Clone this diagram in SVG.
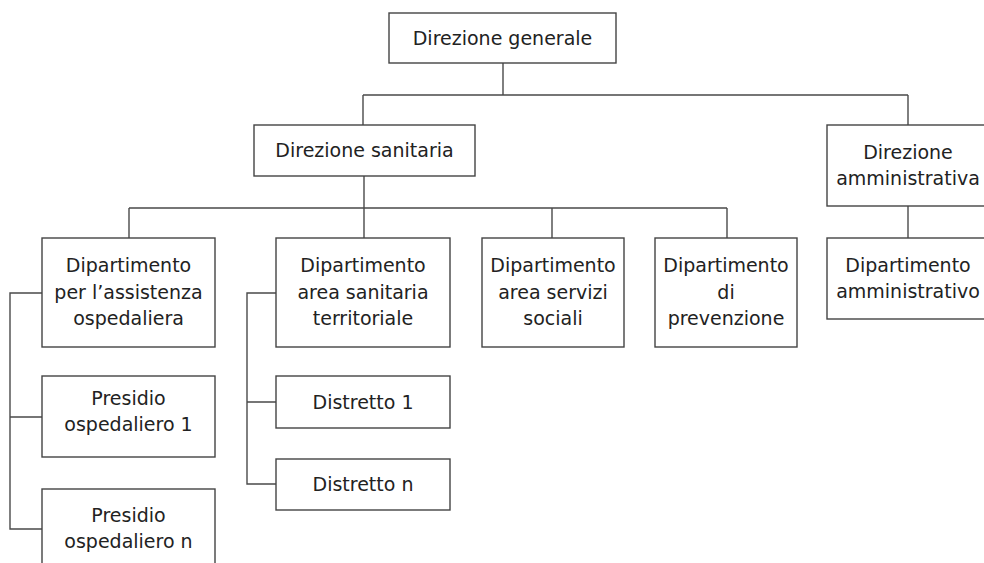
<svg xmlns="http://www.w3.org/2000/svg" width="984" height="563" viewBox="0 0 984 563">
<style>
.box{fill:#fff;stroke:#444;stroke-width:1.4}
.ln{fill:none;stroke:#4a4a4a;stroke-width:1.4}
text{font-family:"DejaVu Sans","Liberation Sans",sans-serif;font-size:19px;fill:#222;text-anchor:middle}
</style>
<rect width="984" height="563" fill="#fff"/>
<g id="connectors">
<path class="ln" d="M503,63V95M363,95H908M363,95V125M908,95V125"/>
<path class="ln" d="M908,206V238"/>
<path class="ln" d="M364,176V208M129,208H727M129,208V238M364,208V238M552,208V238M727,208V238"/>
<path class="ln" d="M42,293H10V529H42M10,417H42"/>
<path class="ln" d="M276,293H247V484H276M247,402H276"/>
</g>
<g id="direzione-generale"><rect class="box" x="389" y="13" width="227" height="50"/><text x="502.5" y="44.5">Direzione generale</text></g>
<g id="direzione-sanitaria"><rect class="box" x="254" y="125" width="221" height="51"/><text x="364.5" y="157">Direzione sanitaria</text></g>
<g id="direzione-amministrativa"><rect class="box" x="827" y="125" width="170" height="81"/><text x="908" y="158.5">Direzione</text><text x="908" y="185">amministrativa</text></g>
<g id="dipartimento-amministrativo"><rect class="box" x="827" y="238" width="170" height="81"/><text x="908" y="271.5">Dipartimento</text><text x="908" y="298">amministrativo</text></g>
<g id="dip-assistenza-ospedaliera"><rect class="box" x="42" y="238" width="173" height="109"/><text x="128.5" y="272">Dipartimento</text><text x="128.5" y="298.5">per l’assistenza</text><text x="128.5" y="325">ospedaliera</text></g>
<g id="dip-area-sanitaria-territoriale"><rect class="box" x="276" y="238" width="174" height="109"/><text x="363" y="272">Dipartimento</text><text x="363" y="298.5">area sanitaria</text><text x="363" y="325">territoriale</text></g>
<g id="dip-area-servizi-sociali"><rect class="box" x="482" y="238" width="142" height="109"/><text x="553" y="272">Dipartimento</text><text x="553" y="298.5">area servizi</text><text x="553" y="325">sociali</text></g>
<g id="dip-prevenzione"><rect class="box" x="655" y="238" width="142" height="109"/><text x="726" y="272">Dipartimento</text><text x="726" y="298.5">di</text><text x="726" y="325">prevenzione</text></g>
<g id="presidio-1"><rect class="box" x="42" y="376" width="173" height="81"/><text x="128.5" y="404.5">Presidio</text><text x="128.5" y="431">ospedaliero 1</text></g>
<g id="presidio-n"><rect class="box" x="42" y="489" width="173" height="81"/><text x="128.5" y="521.5">Presidio</text><text x="128.5" y="548">ospedaliero n</text></g>
<g id="distretto-1"><rect class="box" x="276" y="376" width="174" height="52"/><text x="363" y="408.5">Distretto 1</text></g>
<g id="distretto-n"><rect class="box" x="276" y="459" width="174" height="51"/><text x="363" y="491">Distretto n</text></g>
</svg>
